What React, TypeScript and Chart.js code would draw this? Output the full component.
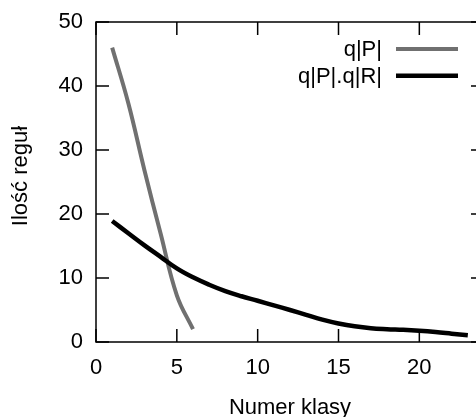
import React, { useEffect, useRef } from "react";
import { Chart, registerables } from "chart.js";

Chart.register(...registerables);

// ---- data ----
const classNumbers = [1, 2, 3, 4, 5, 6, 7, 8, 9, 10, 11, 12, 13, 14, 15, 16, 17, 18, 19, 20, 21, 22, 23];
const qP = [46, 37.3, 26.8, 16.9, 7.3, 2];
const qPqR = [18.9, 17.0, 15.1, 13.3, 11.5, 10.1, 8.95, 7.95, 7.15, 6.45, 5.72, 5.0, 4.25, 3.5, 2.9, 2.45, 2.15, 2.0, 1.9, 1.75, 1.55, 1.3, 1.05];
const seriesLabels = ["q|P|", "q|P|.q|R|"];
const seriesColors = ["#707070", "#000000"];
const xTicks = [0, 5, 10, 15, 20];
const yTicks = [0, 10, 20, 30, 40, 50];
const xTitle = "Numer klasy";
const yTitle = "Ilość reguł";

const FONT = "'Liberation Sans', Arial, sans-serif";

const gnuplotPlugin = {
  id: "gnuplotFrame",
  afterDraw(chart: any) {
    const { ctx, chartArea } = chart;
    const { left, right, top, bottom } = chartArea;
    const xs = chart.scales.x;
    const ys = chart.scales.y;
    const tl = 13;
    ctx.save();
    ctx.strokeStyle = "#000";
    ctx.lineWidth = 1.5;
    ctx.beginPath();
    ctx.rect(left, top, right - left, bottom - top);
    ctx.stroke();
    ctx.beginPath();
    xs.ticks.forEach((t: any) => {
      const px = xs.getPixelForValue(t.value);
      ctx.moveTo(px, bottom);
      ctx.lineTo(px, bottom - tl);
      ctx.moveTo(px, top);
      ctx.lineTo(px, top + tl);
    });
    ys.ticks.forEach((t: any) => {
      const py = ys.getPixelForValue(t.value);
      ctx.moveTo(left, py);
      ctx.lineTo(left + tl, py);
      ctx.moveTo(right, py);
      ctx.lineTo(right - tl, py);
    });
    ctx.stroke();

    // y axis title (gnuplot places it slightly above the centre)
    ctx.save();
    ctx.font = `22px ${FONT}`;
    ctx.fillStyle = "#000";
    ctx.textAlign = "center";
    ctx.textBaseline = "middle";
    ctx.translate(21, (top + bottom) / 2 - 6);
    ctx.rotate(-Math.PI / 2);
    ctx.fillText(yTitle, 0, 0);
    ctx.restore();

    // key (legend), gnuplot style: right-aligned text, sample line at right
    ctx.font = `22px ${FONT}`;
    ctx.textAlign = "right";
    ctx.textBaseline = "middle";
    chart.data.datasets.forEach((ds: any, i: number) => {
      const y = 49 + i * 26.7;
      ctx.fillStyle = "#000";
      ctx.fillText(ds.label, 382, y + 1);
      ctx.strokeStyle = ds.borderColor;
      ctx.lineWidth = ds.borderWidth;
      ctx.beginPath();
      ctx.moveTo(396, y);
      ctx.lineTo(458, y);
      ctx.stroke();
    });
    ctx.restore();
  },
};

export default function App() {
  const canvasRef = useRef<HTMLCanvasElement | null>(null);

  useEffect(() => {
    const canvas = canvasRef.current;
    if (!canvas) return;
    const chart = new Chart(canvas, {
      type: "line",
      data: {
        datasets: [
          {
            label: seriesLabels[0],
            data: qP.map((v, i) => ({ x: classNumbers[i], y: v })),
            borderColor: seriesColors[0],
            backgroundColor: seriesColors[0],
            borderWidth: 4,
            pointRadius: 0,
            tension: 0.4,
            fill: false,
            order: 1,
          },
          {
            label: seriesLabels[1],
            data: qPqR.map((v, i) => ({ x: classNumbers[i], y: v })),
            borderColor: seriesColors[1],
            backgroundColor: seriesColors[1],
            borderWidth: 4.5,
            pointRadius: 0,
            tension: 0.4,
            fill: false,
            order: 0,
          },
        ],
      },
      options: {
        animation: false,
        responsive: false,
        devicePixelRatio: 1,
        layout: { padding: { left: 0, top: 22, right: 6, bottom: 0 } },
        plugins: {
          legend: { display: false },
          tooltip: { enabled: false },
          title: { display: false },
        },
        scales: {
          x: {
            type: "linear",
            min: 0,
            max: 24,
            grid: { display: false, drawTicks: false },
            border: { display: false },
            afterBuildTicks: (scale: any) => {
              scale.ticks = xTicks.map((v) => ({ value: v }));
            },
            afterFit: (scale: any) => {
              scale.height = 83;
              scale.paddingLeft = 0;
              scale.paddingRight = 0;
            },
            ticks: {
              color: "#000",
              font: { family: FONT, size: 22 },
              padding: 13,
              maxRotation: 0,
              autoSkip: false,
            },
            title: {
              display: true,
              text: xTitle,
              color: "#000",
              font: { family: FONT, size: 22 },
              padding: { top: 0, bottom: 4 },
            },
          },
          y: {
            type: "linear",
            min: 0,
            max: 50,
            grid: { display: false, drawTicks: false },
            border: { display: false },
            afterBuildTicks: (scale: any) => {
              scale.ticks = yTicks.map((v) => ({ value: v }));
            },
            afterFit: (scale: any) => {
              scale.width = 96;
              scale.paddingTop = 0;
              scale.paddingBottom = 0;
            },
            ticks: {
              color: "#000",
              font: { family: FONT, size: 22 },
              padding: 13,
              autoSkip: false,
            },
            title: { display: false },
          },
        },
      },
      plugins: [gnuplotPlugin],
    } as any);
    return () => chart.destroy();
  }, []);

  return (
    <div
      style={{
        position: "absolute",
        left: 0,
        top: 0,
        width: 476,
        height: 417,
        overflow: "hidden",
        background: "#fff",
      }}
    >
      <canvas ref={canvasRef} width={490} height={425} style={{ display: "block" }} />
    </div>
  );
}
